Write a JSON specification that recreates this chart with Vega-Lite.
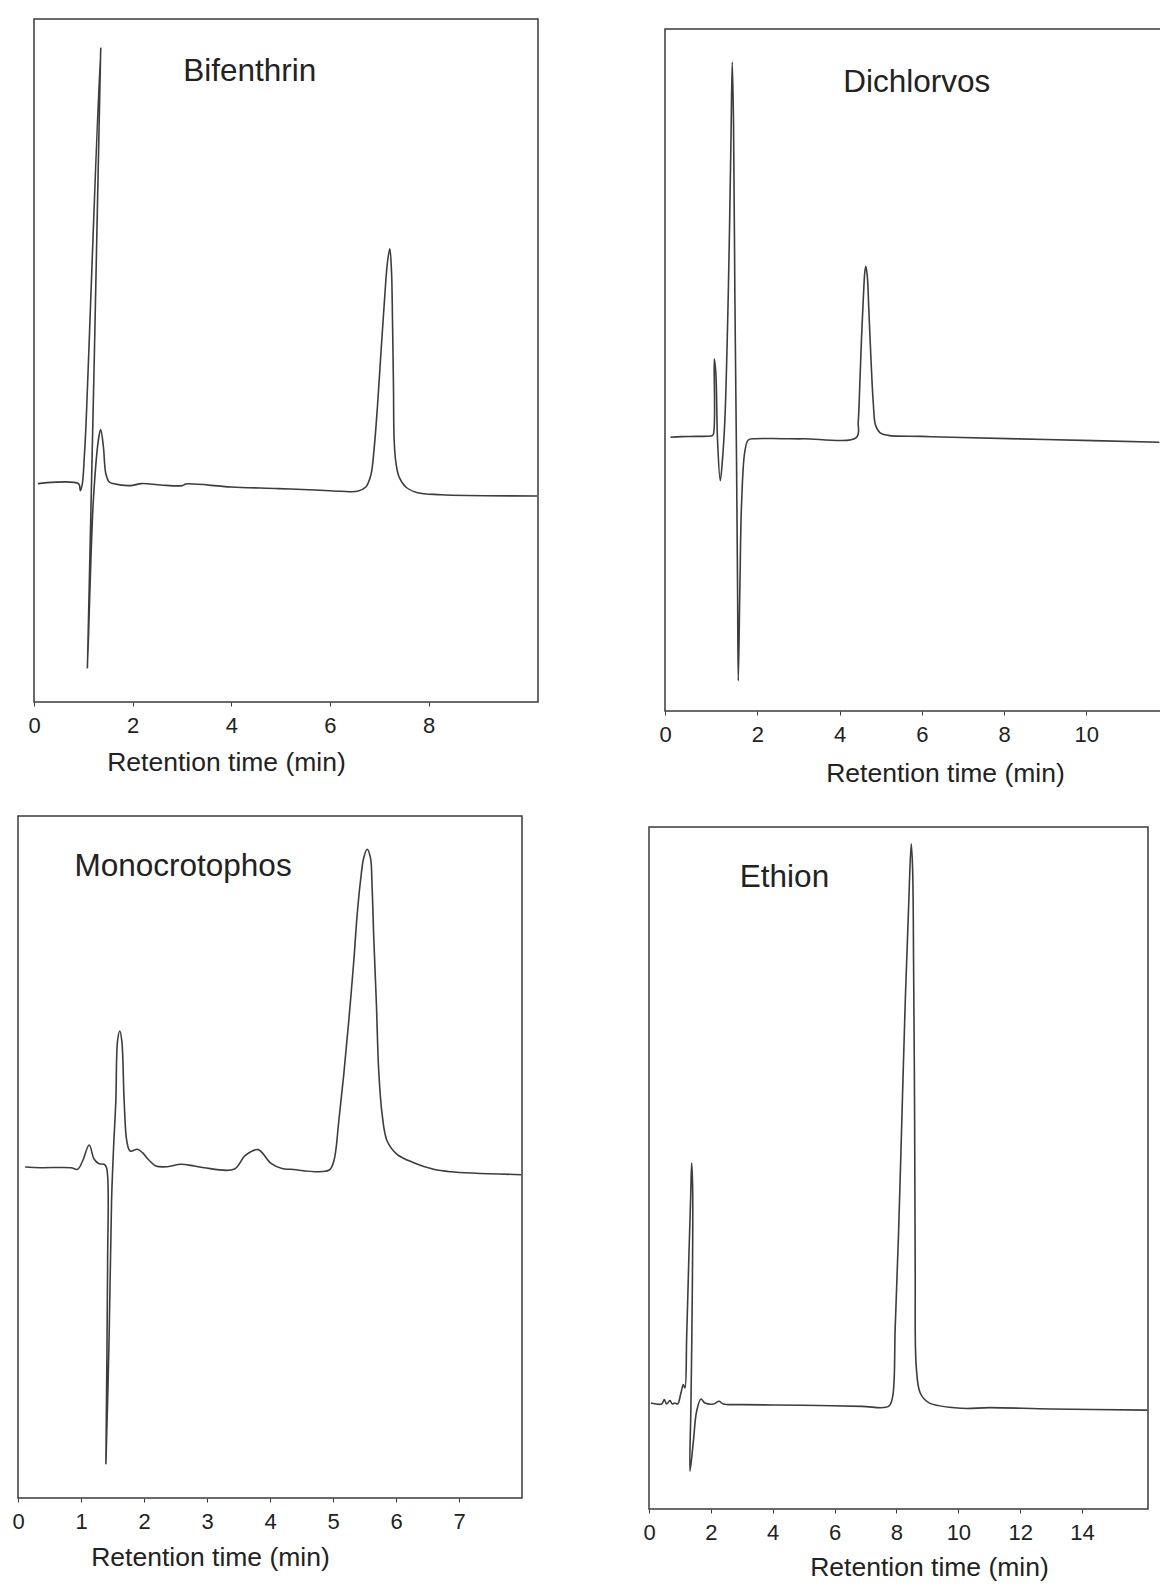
{
  "$schema": "https://vega.github.io/schema/vega-lite/v6.json",
  "background": "white",
  "padding": {"left": 11, "top": 16, "right": 0, "bottom": 0},
  "config": {
    "view": {"stroke": "#3a3a3a", "strokeWidth": 1.5},
    "axis": {
      "domain": false, "grid": false,
      "labelFont": "Liberation Sans", "labelFontSize": 22, "labelColor": "#222",
      "titleFont": "Liberation Sans", "titleFontSize": 26.5, "titleFontWeight": "normal", "titleColor": "#222",
      "ticks": true, "tickSize": 4, "tickColor": "#3a3a3a", "labelPadding": 9,
      "titleBaseline": "alphabetic", "labelOverlap": false, "labelFlush": false, "format": "d"
    },
    "line": {"color": "#3d3d3d", "strokeWidth": 1.6, "interpolate": "catmull-rom"},
    "text": {"font": "Liberation Sans", "fontSize": 31.5, "color": "#222", "align": "center", "baseline": "alphabetic"}
  },
  "datasets": {
    "bifenthrin": [
      {"i":1,"t":0.08,"s":218.4},{"i":2,"t":0.90,"s":218.4},{"i":3,"t":0.94,"s":211.4},{"i":4,"t":0.98,"s":218.2},
      {"i":5,"t":1.02,"s":245},{"i":6,"t":1.05,"s":272.4},{"i":7,"t":1.353,"s":654},{"i":8,"t":1.083,"s":34},
      {"i":9,"t":1.205,"s":203},{"i":10,"t":1.318,"s":266},{"i":11,"t":1.353,"s":272.4},{"i":12,"t":1.408,"s":255},
      {"i":13,"t":1.454,"s":229},{"i":14,"t":1.521,"s":220.3},{"i":15,"t":1.623,"s":218.2},{"i":16,"t":1.953,"s":216.4},
      {"i":17,"t":2.18,"s":218.4},{"i":18,"t":2.57,"s":217},{"i":19,"t":3.006,"s":216.4},{"i":20,"t":3.08,"s":218},
      {"i":21,"t":3.99,"s":215},{"i":22,"t":4.96,"s":213.4},{"i":23,"t":5.815,"s":211.7},{"i":24,"t":6.221,"s":210.7},
      {"i":25,"t":6.56,"s":210.7},{"i":26,"t":6.728,"s":215},{"i":27,"t":6.83,"s":226.7},{"i":28,"t":6.897,"s":253.3},
      {"i":29,"t":6.966,"s":296.7},{"i":30,"t":7.032,"s":346.7},{"i":31,"t":7.1,"s":396.7},{"i":32,"t":7.168,"s":440},
      {"i":33,"t":7.215,"s":453.3},{"i":34,"t":7.25,"s":430},{"i":35,"t":7.27,"s":380},{"i":36,"t":7.29,"s":313.3},
      {"i":37,"t":7.302,"s":263.3},{"i":38,"t":7.337,"s":240},{"i":39,"t":7.404,"s":225},{"i":40,"t":7.54,"s":215},
      {"i":41,"t":7.777,"s":209.3},{"i":42,"t":8.25,"s":207.3},{"i":43,"t":10.2,"s":206}
    ],
    "dichlorvos": [
      {"i":1,"t":-0.117,"s":273.7},{"i":2,"t":0.153,"s":274.4},{"i":3,"t":0.5,"s":274.6},{"i":4,"t":0.883,"s":275.2},
      {"i":5,"t":0.925,"s":276.5},{"i":6,"t":0.949,"s":352.2},{"i":7,"t":0.988,"s":337.5},{"i":8,"t":1.029,"s":270.2},
      {"i":9,"t":1.095,"s":230.2},{"i":10,"t":1.144,"s":249.1},{"i":11,"t":1.207,"s":291.2},{"i":12,"t":1.29,"s":417.5},
      {"i":13,"t":1.353,"s":564.8},{"i":14,"t":1.387,"s":649},{"i":15,"t":1.418,"s":585.8},{"i":16,"t":1.45,"s":417.5},
      {"i":17,"t":1.491,"s":249.1},{"i":18,"t":1.516,"s":122.9},{"i":19,"t":1.533,"s":30.3},{"i":20,"t":1.572,"s":122.9},
      {"i":21,"t":1.613,"s":207},{"i":22,"t":1.693,"s":259.6},{"i":23,"t":1.776,"s":271},{"i":24,"t":1.937,"s":272.3},
      {"i":25,"t":2.586,"s":272.3},{"i":26,"t":3.127,"s":272.2},{"i":27,"t":4.411,"s":273.7},{"i":28,"t":4.453,"s":289.6},
      {"i":29,"t":4.491,"s":327},{"i":30,"t":4.533,"s":373.7},{"i":31,"t":4.574,"s":411.1},{"i":32,"t":4.613,"s":439.2},
      {"i":33,"t":4.637,"s":444.8},{"i":34,"t":4.672,"s":435.5},{"i":35,"t":4.71,"s":401.8},{"i":36,"t":4.759,"s":355},
      {"i":37,"t":4.818,"s":308.3},{"i":38,"t":4.873,"s":285.9},{"i":39,"t":4.978,"s":278.4},{"i":40,"t":5.182,"s":275.6},
      {"i":41,"t":5.993,"s":274.6},{"i":42,"t":6.732,"s":273.7},{"i":43,"t":9.0,"s":271.5},{"i":44,"t":11.78,"s":268.8}
    ],
    "monocrotophos": [
      {"i":1,"t":0.113,"s":331},{"i":2,"t":0.365,"s":330.3},{"i":3,"t":0.84,"s":330.3},{"i":4,"t":0.946,"s":328.7},
      {"i":5,"t":1.025,"s":337},{"i":6,"t":1.13,"s":353},{"i":7,"t":1.209,"s":338.7},{"i":8,"t":1.288,"s":334.3},
      {"i":9,"t":1.368,"s":333.7},{"i":10,"t":1.406,"s":330.3},{"i":11,"t":1.422,"s":230.3},{"i":12,"t":1.395,"s":33.7},
      {"i":13,"t":1.447,"s":163.7},{"i":14,"t":1.485,"s":297},{"i":15,"t":1.517,"s":350.3},{"i":16,"t":1.553,"s":397},
      {"i":17,"t":1.58,"s":457},{"i":18,"t":1.616,"s":467},{"i":19,"t":1.648,"s":457},{"i":20,"t":1.685,"s":397},
      {"i":21,"t":1.727,"s":357},{"i":22,"t":1.78,"s":347},{"i":23,"t":1.897,"s":348.7},{"i":24,"t":1.976,"s":345.3},
      {"i":25,"t":2.081,"s":337.7},{"i":26,"t":2.187,"s":332},{"i":27,"t":2.372,"s":331.3},{"i":28,"t":2.583,"s":333.7},
      {"i":29,"t":2.794,"s":332},{"i":30,"t":2.952,"s":330.3},{"i":31,"t":3.428,"s":328.7},{"i":32,"t":3.604,"s":342.3},
      {"i":33,"t":3.81,"s":348.4},{"i":34,"t":4.016,"s":334.6},{"i":35,"t":4.192,"s":329.4},{"i":36,"t":4.326,"s":328.7},
      {"i":37,"t":4.933,"s":327.7},{"i":38,"t":5.013,"s":337},{"i":39,"t":5.092,"s":377},{"i":40,"t":5.171,"s":423.7},
      {"i":41,"t":5.25,"s":477},{"i":42,"t":5.33,"s":537},{"i":43,"t":5.384,"s":583.7},{"i":44,"t":5.436,"s":617},
      {"i":45,"t":5.488,"s":640.3},{"i":46,"t":5.542,"s":648.7},{"i":47,"t":5.594,"s":640.3},{"i":48,"t":5.621,"s":610.3},
      {"i":49,"t":5.647,"s":560.3},{"i":50,"t":5.689,"s":493.7},{"i":51,"t":5.726,"s":427},{"i":52,"t":5.78,"s":383.7},
      {"i":53,"t":5.859,"s":357},{"i":54,"t":6.017,"s":343.7},{"i":55,"t":6.281,"s":335.3},{"i":56,"t":6.598,"s":328.7},
      {"i":57,"t":6.862,"s":326.3},{"i":58,"t":7.99,"s":323.3}
    ],
    "ethion": [
      {"i":1,"t":0.061,"s":106},{"i":2,"t":0.408,"s":105},{"i":3,"t":0.495,"s":109.4},{"i":4,"t":0.57,"s":105},
      {"i":5,"t":0.676,"s":108.4},{"i":6,"t":0.754,"s":105},{"i":7,"t":0.838,"s":106},{"i":8,"t":0.926,"s":105},
      {"i":9,"t":1.032,"s":116},{"i":10,"t":1.11,"s":124.4},{"i":11,"t":1.162,"s":121},{"i":12,"t":1.217,"s":171},
      {"i":13,"t":1.291,"s":254.4},{"i":14,"t":1.346,"s":311},{"i":15,"t":1.379,"s":346},{"i":16,"t":1.411,"s":321},
      {"i":17,"t":1.401,"s":221},{"i":18,"t":1.356,"s":104.4},{"i":19,"t":1.324,"s":37.7},{"i":20,"t":1.434,"s":67.7},
      {"i":21,"t":1.54,"s":97.7},{"i":22,"t":1.68,"s":110},{"i":23,"t":1.809,"s":106},{"i":24,"t":2.081,"s":105},
      {"i":25,"t":2.262,"s":107.7},{"i":26,"t":2.405,"s":105},{"i":27,"t":2.997,"s":104.4},{"i":28,"t":4.05,"s":104},
      {"i":29,"t":5.5,"s":103.5},{"i":30,"t":6.88,"s":102.6},{"i":31,"t":7.744,"s":102.6},{"i":32,"t":7.874,"s":112.2},
      {"i":33,"t":7.958,"s":181.1},{"i":34,"t":8.068,"s":276.7},{"i":35,"t":8.175,"s":391.5},{"i":36,"t":8.282,"s":506.3},
      {"i":37,"t":8.392,"s":602},{"i":38,"t":8.476,"s":665.2},{"i":39,"t":8.521,"s":640.3},{"i":40,"t":8.553,"s":544.6},
      {"i":41,"t":8.586,"s":391.5},{"i":42,"t":8.605,"s":238.5},{"i":43,"t":8.638,"s":142.8},{"i":44,"t":8.767,"s":116},
      {"i":45,"t":9.039,"s":106.4},{"i":46,"t":10.116,"s":100.7},{"i":47,"t":11.0,"s":101.4},{"i":48,"t":13.0,"s":100},
      {"i":49,"t":16.1,"s":98.9}
    ]
  },
  "spacing": 101,
  "hconcat": [
    {
      "spacing": 38,
      "vconcat": [
        {
          "spacing": 0,
          "hconcat": [
            {"width": 9, "height": 1, "data": {"values": [{"k": 0}]}, "mark": {"type": "point", "opacity": 0}, "view": {"stroke": null}},
            {
              "width": 504, "height": 683,
              "layer": [
                {
                  "data": {"name": "bifenthrin"},
                  "mark": {"type": "line"},
                  "encoding": {
                    "x": {"field": "t", "type": "quantitative", "scale": {"domain": [0, 10.22], "nice": false, "zero": false},
                          "axis": {"title": "Retention time (min)", "values": [0, 2, 4, 6, 8], "titleX": 192, "titleY": 68}},
                    "y": {"field": "s", "type": "quantitative", "scale": {"domain": [0, 683], "nice": false, "zero": false}, "axis": null},
                    "order": {"field": "i", "type": "quantitative"}
                  }
                },
                {
                  "data": {"values": [{"compound": "Bifenthrin"}]},
                  "mark": {"type": "text"},
                  "encoding": {"text": {"field": "compound"}, "x": {"datum": 4.375}, "y": {"datum": 621.4}}
                }
              ]
            }
          ]
        },
        {
          "width": 504, "height": 682,
          "layer": [
            {
              "data": {"name": "monocrotophos"},
              "mark": {"type": "line"},
              "encoding": {
                "x": {"field": "t", "type": "quantitative", "scale": {"domain": [0, 8.0], "nice": false, "zero": false},
                      "axis": {"title": "Retention time (min)", "values": [0, 1, 2, 3, 4, 5, 6, 7], "titleX": 192, "titleY": 67}},
                "y": {"field": "s", "type": "quantitative", "scale": {"domain": [0, 682], "nice": false, "zero": false}, "axis": null},
                "order": {"field": "i", "type": "quantitative"}
              }
            },
            {
              "data": {"values": [{"compound": "Monocrotophos"}]},
              "mark": {"type": "text"},
              "encoding": {"text": {"field": "compound"}, "x": {"datum": 2.62}, "y": {"datum": 622}}
            }
          ]
        }
      ]
    },
    {
      "spacing": 0,
      "vconcat": [
        {"width": 1, "height": 7, "data": {"values": [{"k": 0}]}, "mark": {"type": "point", "opacity": 0}, "view": {"stroke": null}},
        {
          "spacing": 38,
          "vconcat": [
            {
              "spacing": 0,
              "hconcat": [
                {"width": 9, "height": 1, "data": {"values": [{"k": 0}]}, "mark": {"type": "point", "opacity": 0}, "view": {"stroke": null}},
                {
                  "width": 496, "height": 682,
                  "layer": [
                    {
                      "data": {"name": "dichlorvos"},
                      "mark": {"type": "line"},
                      "encoding": {
                        "x": {"field": "t", "type": "quantitative", "scale": {"domain": [-0.25, 11.82], "nice": false, "zero": false},
                              "axis": {"title": "Retention time (min)", "values": [-0.25, 2, 4, 6, 8, 10], "labelExpr": "datum.value < 0 ? '0' : datum.label", "titleX": 280, "titleY": 70}},
                        "y": {"field": "s", "type": "quantitative", "scale": {"domain": [0, 682], "nice": false, "zero": false}, "axis": null},
                        "order": {"field": "i", "type": "quantitative"}
                      }
                    },
                    {
                      "data": {"values": [{"compound": "Dichlorvos"}]},
                      "mark": {"type": "text"},
                      "encoding": {"text": {"field": "compound"}, "x": {"datum": 5.876}, "y": {"datum": 619.5}}
                    }
                  ]
                }
              ]
            },
            {
              "width": 499, "height": 682,
              "layer": [
                {
                  "data": {"name": "ethion"},
                  "mark": {"type": "line"},
                  "encoding": {
                    "x": {"field": "t", "type": "quantitative", "scale": {"domain": [0, 16.13], "nice": false, "zero": false},
                          "axis": {"title": "Retention time (min)", "values": [0, 2, 4, 6, 8, 10, 12, 14], "titleX": 280, "titleY": 66}},
                    "y": {"field": "s", "type": "quantitative", "scale": {"domain": [0, 682], "nice": false, "zero": false}, "axis": null},
                    "order": {"field": "i", "type": "quantitative"}
                  }
                },
                {
                  "data": {"values": [{"compound": "Ethion"}]},
                  "mark": {"type": "text"},
                  "encoding": {"text": {"field": "compound"}, "x": {"datum": 4.38}, "y": {"datum": 622.5}}
                }
              ]
            }
          ]
        }
      ]
    }
  ]
}
